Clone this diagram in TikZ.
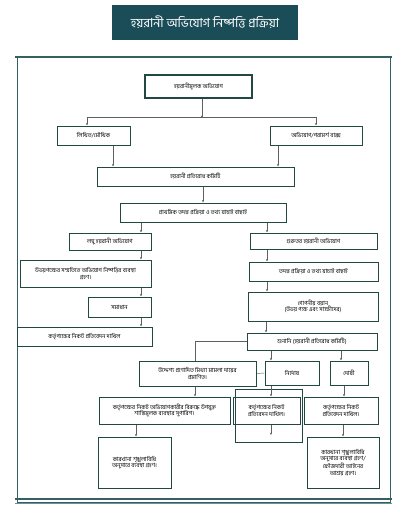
\documentclass[tikz,border=0pt]{standalone}
\usepackage{fontspec}
\usetikzlibrary{arrows.meta,positioning,calc}
\newfontfamily\bn[Script=Bengali]{Hind Siliguri}
\definecolor{TitleTeal}{RGB}{27,77,88}
\definecolor{BoxGreen}{RGB}{34,72,66}
\definecolor{FrameTeal}{RGB}{52,96,100}
\definecolor{LineGray}{RGB}{95,95,95}

\begin{document}
\begin{tikzpicture}[x=1pt,y=-1pt,
  stage/.style={rectangle,draw=BoxGreen,line width=1pt,inner sep=1pt,align=center,font=\bn\fontsize{5.8}{6.6}\selectfont},
  arr/.style={-{Latex[length=2.2pt,width=2.2pt]},line width=0.45pt,LineGray},
  ln/.style={line width=0.45pt,LineGray}
]
  \useasboundingbox (0,0) rectangle (400,516);
  % frame and title
  \draw[FrameTeal,line width=0.6pt] (17,57) rectangle (390,502);
  \draw[FrameTeal,line width=1.6pt] (15,57) -- (392,57);
  \draw[FrameTeal,line width=1.6pt] (15,499) -- (392,499);
  \draw[FrameTeal!70,line width=0.7pt] (15,503) -- (392,503);
  \node[fill=TitleTeal,text=white,minimum width=186pt,minimum height=35pt,font=\bn\fontsize{12.5}{14}\selectfont] (title) at (205,22.5) {হয়রানী অভিযোগ নিষ্পত্তি প্রক্রিয়া};

  % upper part
  \node[stage,line width=1.6pt,minimum width=107pt,minimum height=23pt] (complaint) at (198.5,86.5) {হয়রানীমূলক অভিযোগ};
  \node[stage,minimum width=73pt,minimum height=19pt] (written) at (93.5,135.5) {লিখিত/মৌখিক};
  \node[stage,minimum width=92pt,minimum height=19pt] (sbox) at (316,135.5) {অভিযোগ/পরামর্শ বাক্স};
  \node[stage,minimum width=197pt,minimum height=19pt] (committee) at (195.5,176.5) {হয়রানী প্রতিরোধ কমিটি};
  \node[stage,minimum width=166pt,minimum height=19pt] (prelim) at (203,212.5) {প্রাথমিক তদন্ত প্রক্রিয়া ও তথ্য যাচাই বাছাই};

  % left branch
  \node[stage,minimum width=82pt,minimum height=17pt] (minor) at (110,241.5) {লঘু হয়রানী অভিযোগ};
  \node[stage,minimum width=131pt,minimum height=27pt] (consent) at (85.5,273.5) {উভয়পক্ষের সম্মতিতে অভিযোগ নিষ্পত্তির ব্যবস্থা\\গ্রহণ।};
  \node[stage,minimum width=63pt,minimum height=20pt] (solve) at (119.5,307) {সমাধান};
  \node[stage,minimum width=135pt,minimum height=19pt] (reportL) at (84.5,336.5) {কর্তৃপক্ষের নিকট প্রতিবেদন দাখিল};

  % right branch
  \node[stage,minimum width=127pt,minimum height=16pt] (serious) at (313.5,241) {গুরুতর হয়রানী অভিযোগ};
  \node[stage,minimum width=129pt,minimum height=19pt] (probe) at (313.5,271.5) {তদন্ত প্রক্রিয়া ও তথ্য যাচাই বাছাই};
  \node[stage,minimum width=130pt,minimum height=29pt] (statement) at (313,306.5) {গোপনীয় বয়ান\\(উভয় পক্ষ এবং সাক্ষীদের)};
  \node[stage,minimum width=130pt,minimum height=17pt] (hearing) at (312,341.5) {শুনানি (হয়রানী প্রতিরোধ কমিটি)};

  % outcomes
  \node[stage,minimum width=117pt,minimum height=25pt] (falsecase) at (197.5,373.5) {উদ্দেশ্য প্রণোদিত মিথ্যা মামলা দায়ের\\প্রমাণিত।};
  \node[stage,minimum width=54pt,minimum height=24pt] (innocent) at (292,373) {নির্দোষ};
  \node[stage,minimum width=38pt,minimum height=24pt] (guilty) at (349,373) {দোষী};
  \node[stage,minimum width=131pt,minimum height=27pt] (punish) at (164.5,410.5) {কর্তৃপক্ষের নিকট অভিযোগকারীর বিরুদ্ধে উপযুক্ত\\শাস্তিমূলক ব্যবস্থার সুপারিশ।};
  \node[stage,minimum width=67pt,minimum height=53pt] (spare) at (268.5,415.5) {};
  \node[stage,minimum width=67pt,minimum height=27pt] (reportI) at (266.5,410.5) {কর্তৃপক্ষের নিকট\\প্রতিবেদন দাখিল।};
  \node[stage,minimum width=74pt,minimum height=27pt] (reportG) at (341,410.5) {কর্তৃপক্ষের নিকট\\প্রতিবেদন দাখিল।};
  \node[stage,minimum width=73pt,minimum height=51pt] (ruleA) at (134.5,462.5) {কারখানা শৃঙ্খলাবিধি\\অনুসারে ব্যবস্থা গ্রহণ।};
  \node[stage,minimum width=72pt,minimum height=51pt] (ruleB) at (343,462.5) {কারখানা শৃঙ্খলাবিধি\\অনুসারে ব্যবস্থা গ্রহণ/\\ফৌজদারী আইনের\\আশ্রয় গ্রহণ।};
  \coordinate (split) at (202,117);
  \coordinate (spareend) at (271,435);

  % connectors
  \draw[arr] ([xshift=3.5pt]complaint.south) -- ([yshift=-1pt]split);
  \draw[arr] (split) -| ([xshift=-6.5pt]written.north);
  \draw[arr] (split) -| (sbox.north);
  \draw[arr] ([xshift=19.5pt]written.south) -- ([xshift=19.5pt]written.south |- committee.north);
  \draw[arr] ([xshift=-38pt]sbox.south) -- ([xshift=-38pt]sbox.south |- committee.north);
  \draw[arr] (committee.south -| prelim.north) -- (prelim.north);
  \draw[arr] ([xshift=31pt]minor.north |- prelim.south) -- ([xshift=31pt]minor.north);
  \draw[arr] ([xshift=-46.5pt]serious.north |- prelim.south) -- ([xshift=-46.5pt]serious.north);
  \draw[arr] ([xshift=31pt]minor.south) -- ([xshift=31pt]minor.south |- consent.north);
  \draw[arr] ([xshift=21.5pt]solve.north |- consent.south) -- ([xshift=21.5pt]solve.north);
  \draw[arr] ([xshift=21.5pt]solve.south) -- ([xshift=21.5pt]solve.south |- reportL.north);
  \draw[arr] ([xshift=-46.5pt]serious.south) -- ([xshift=-46.5pt]serious.south |- probe.north);
  \draw[arr] ([xshift=-46.5pt]probe.south) -- ([xshift=-46.5pt]probe.south |- statement.north);
  \draw[arr] ([xshift=-47pt]statement.south) -- ([xshift=-47pt]statement.south |- hearing.north);
  \draw[ln] (hearing.west) -| ([xshift=-2.5pt]falsecase.north);
  \draw[arr] ([xshift=-21pt]innocent.north |- hearing.south) -- ([xshift=-21pt]innocent.north);
  \draw[arr] ([xshift=-8pt]guilty.north |- hearing.south) -- ([xshift=-8pt]guilty.north);
  \draw[ln] (falsecase.east) -- (innocent.west);
  \draw[arr] ([xshift=-2.5pt]falsecase.south) -- ([xshift=-2.5pt]falsecase.south |- punish.north);
  \draw[arr] ([xshift=-21pt]innocent.south) -- ([xshift=-21pt]innocent.south |- reportI.north);
  \draw[arr] ([xshift=-5pt]guilty.south) -- ([xshift=-5pt]guilty.south |- reportG.north);
  \draw[arr] ([xshift=4.5pt]reportI.south) -- (spareend);
  \draw[arr] ([xshift=-28.5pt]punish.south) -- ([xshift=-28.5pt]punish.south |- ruleA.north);
  \draw[arr] ([xshift=2pt]reportG.south) -- ([xshift=2pt]reportG.south |- ruleB.north);
\end{tikzpicture}
\end{document}
